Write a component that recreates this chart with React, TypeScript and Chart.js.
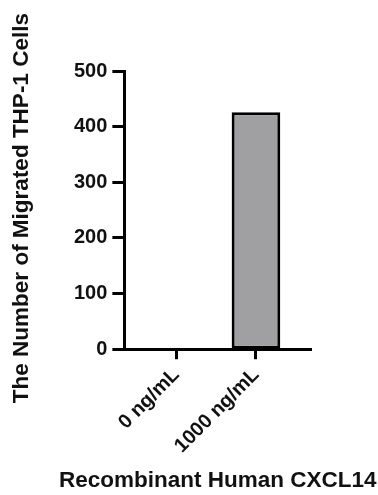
import React, { useEffect, useRef } from "react";
import { Chart, registerables } from "chart.js";

Chart.register(...registerables);

const categories = ["0 ng/mL", "1000 ng/mL"];
const migratedCells = [0, 426];
const yTicks = [0, 100, 200, 300, 400, 500];
const xTitle = "Recombinant Human CXCL14";
const yTitle = "The Number of Migrated THP-1 Cells";

const FONT = "'Liberation Sans', Arial, Helvetica, sans-serif";

const titlesPlugin = {
  id: "axisTitles",
  afterDraw(chart: any) {
    const { ctx, chartArea, height } = chart;
    ctx.save();
    ctx.fillStyle = "#111";
    ctx.textAlign = "center";
    ctx.textBaseline = "middle";
    ctx.font = `bold 22.5px ${FONT}`;
    ctx.fillText(xTitle, (chartArea.left + chartArea.right) / 2, height - 14);
    ctx.translate(22, (chartArea.top + chartArea.bottom) / 2 - 2);
    ctx.rotate(-Math.PI / 2);
    ctx.font = `bold 22.5px ${FONT}`;
    ctx.fillText(yTitle, 0, 0);
    ctx.restore();
  },
};

export default function App() {
  const ref = useRef<HTMLCanvasElement>(null);

  useEffect(() => {
    if (!ref.current) return;
    const chart = new Chart(ref.current, {
      type: "bar",
      data: {
        datasets: [
          {
            data: categories.map((_, i) => ({ x: i, y: migratedCells[i] })),
            backgroundColor: "#a0a0a3",
            borderColor: "#000000",
            borderWidth: 3,
            borderSkipped: false,
            barPercentage: 0.61,
            categoryPercentage: 1,
          },
        ],
      },
      options: {
        animation: false,
        responsive: false,
        maintainAspectRatio: false,
        layout: { padding: { left: 69, right: 67, top: 71, bottom: 33 } },
        plugins: { legend: { display: false }, tooltip: { enabled: false } },
        scales: {
          x: {
            type: "linear",
            offset: false,
            min: -0.65,
            max: 1.69,
            afterBuildTicks: (scale: any) => {
              scale.ticks = categories.map((_, i) => ({ value: i }));
            },
            ticks: {
              callback: (v: any) => categories[v as number] ?? "",
              minRotation: 45,
              maxRotation: 45,
              padding: 4,
              color: "#111",
              font: { family: FONT, size: 20, weight: "bold" },
            },
            grid: {
              display: true,
              offset: false,
              drawOnChartArea: false,
              drawTicks: true,
              tickLength: 10,
              tickWidth: 3,
              color: "#000",
            },
            border: { display: true, color: "#000", width: 3 },
          },
          y: {
            min: 0,
            max: 500,
            afterBuildTicks: (scale: any) => {
              scale.ticks = yTicks.map((v) => ({ value: v }));
            },
            ticks: {
              padding: 5,
              color: "#111",
              font: { family: FONT, size: 20, weight: "bold" },
            },
            grid: {
              display: true,
              drawOnChartArea: false,
              drawTicks: true,
              tickLength: 12,
              tickWidth: 3,
              color: "#000",
            },
            border: { display: true, color: "#000", width: 3 },
          },
        },
      },
      plugins: [titlesPlugin],
    });
    return () => chart.destroy();
  }, []);

  return (
    <div style={{ position: "absolute", left: 0, top: 0, width: 378, height: 495, background: "#fff" }}>
      <canvas ref={ref} width={378} height={495} style={{ width: 378, height: 495, display: "block" }} />
    </div>
  );
}
